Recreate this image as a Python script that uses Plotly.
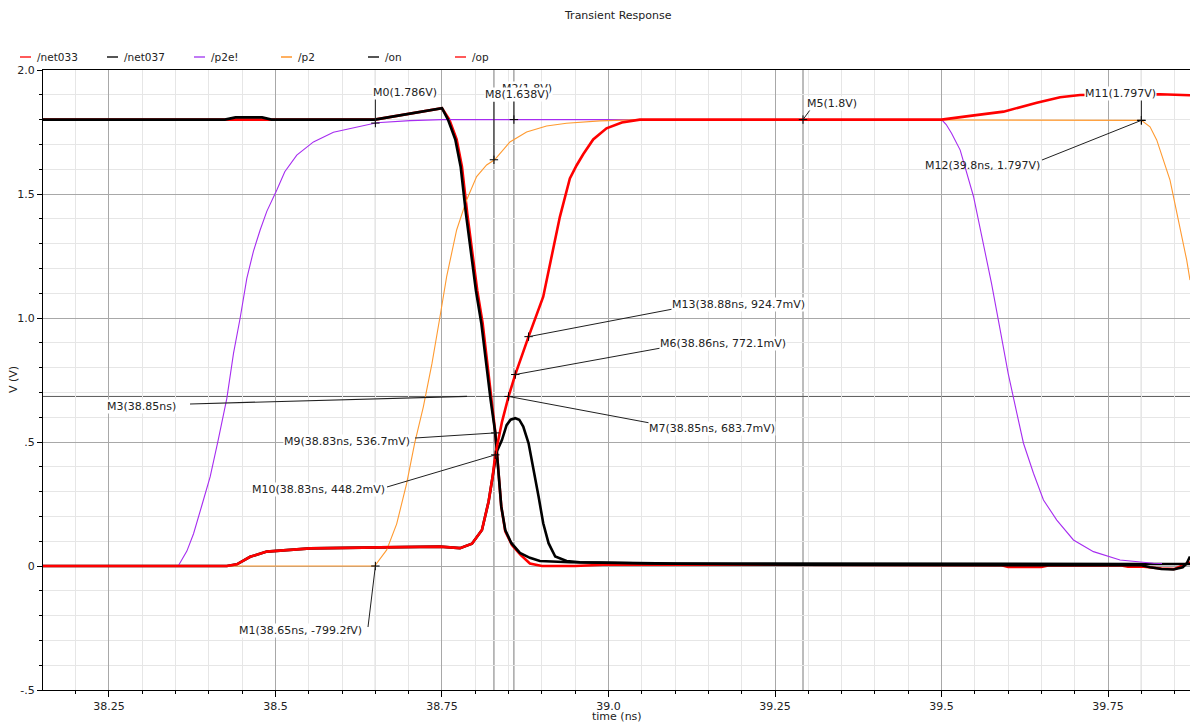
import plotly.graph_objects as go

# ---------------- data ----------------
x_ticks = [38.25, 38.5, 38.75, 39.0, 39.25, 39.5, 39.75]
x_tick_text = ["38.25", "38.5", "38.75", "39.0", "39.25", "39.5", "39.75"]
y_ticks = [-0.5, 0.0, 0.5, 1.0, 1.5, 2.0]
y_tick_text = ["-.5", "0", ".5", "1.0", "1.5", "2.0"]

t_net033 = [38.151, 38.649, 38.75, 38.761, 38.772, 38.780, 38.788, 38.795, 38.803, 38.811,
            38.819, 38.824, 38.830, 38.833, 38.836, 38.839, 38.845, 38.855, 38.868, 38.882,
            38.90, 38.95, 39.0, 39.3, 39.59, 39.60, 39.65, 39.66, 39.77, 39.78, 39.80,
            39.83, 39.85, 39.873]
v_net033 = [1.8, 1.8, 1.846, 1.8, 1.72, 1.61, 1.42, 1.27, 1.11, 0.98,
            0.80, 0.67, 0.54, 0.44, 0.335, 0.24, 0.14, 0.085, 0.045, 0.01,
            0.0, 0.0, 0.006, 0.005, 0.003, -0.004, -0.004, 0.002, 0.002, -0.003, -0.002,
            -0.01, -0.012, 0.015]

t_net037 = [38.151, 38.427, 38.442, 38.462, 38.487, 38.552, 38.657, 38.747, 38.777, 38.795,
            38.810, 38.820, 38.826, 38.832, 38.840, 38.847, 38.853, 38.860, 38.866, 38.872,
            38.880, 38.887, 38.895, 38.902, 38.910, 38.920, 38.937, 38.957, 39.1, 39.8, 39.873]
v_net037 = [0.0, 0.0, 0.007, 0.037, 0.058, 0.071, 0.075, 0.078, 0.072, 0.09,
            0.145, 0.26, 0.36, 0.46, 0.508, 0.568, 0.590, 0.596, 0.59, 0.562,
            0.495, 0.40, 0.28, 0.172, 0.092, 0.038, 0.02, 0.015, 0.01, 0.008, 0.008]

t_p2e = [38.151, 38.354, 38.367, 38.377, 38.389, 38.402, 38.414, 38.427, 38.437, 38.447,
         38.457, 38.467, 38.477, 38.487, 38.502, 38.514, 38.532, 38.557, 38.587, 38.622,
         38.652, 38.702, 38.75, 39.50, 39.507, 39.515, 39.528, 39.548, 39.563, 39.575,
         39.588, 39.600, 39.613, 39.623, 39.638, 39.653, 39.673, 39.698, 39.728, 39.768,
         39.818, 39.831]
v_p2e = [0.0, 0.0, 0.06, 0.13, 0.24, 0.36, 0.508, 0.676, 0.857, 1.0,
         1.16, 1.27, 1.355, 1.43, 1.516, 1.59, 1.657, 1.71, 1.749, 1.771,
         1.787, 1.796, 1.8, 1.8, 1.78, 1.745, 1.677, 1.49, 1.30, 1.14,
         0.952, 0.777, 0.616, 0.495, 0.374, 0.266, 0.185, 0.105, 0.058, 0.024,
         0.011, 0.01]

t_p2 = [38.151, 38.649, 38.667, 38.682, 38.697, 38.709, 38.722, 38.735, 38.747, 38.757,
        38.772, 38.787, 38.802, 38.817, 38.829, 38.852, 38.877, 38.907, 38.937, 38.987,
        39.047, 39.80, 39.813, 39.823, 39.843, 39.856, 39.868, 39.873]
v_p2 = [0.0, 0.0, 0.065, 0.17, 0.333, 0.495, 0.642, 0.817, 1.005, 1.167,
        1.355, 1.476, 1.57, 1.617, 1.638, 1.71, 1.75, 1.774, 1.785, 1.795,
        1.8, 1.797, 1.771, 1.718, 1.556, 1.395, 1.234, 1.153]

t_on = [38.151, 38.424, 38.440, 38.48, 38.494, 38.649, 38.75, 38.759, 38.770, 38.778,
        38.786, 38.793, 38.801, 38.809, 38.817, 38.823, 38.830, 38.833, 38.836, 38.839,
        38.845, 38.854, 38.867, 38.882, 38.897, 38.942, 39.062, 39.29, 39.8, 39.813,
        39.83, 39.848, 39.862, 39.868, 39.873]
v_on = [1.8, 1.8, 1.809, 1.809, 1.8, 1.8, 1.846, 1.8, 1.72, 1.61,
        1.42, 1.27, 1.11, 0.98, 0.80, 0.67, 0.537, 0.44, 0.335, 0.24,
        0.145, 0.093, 0.053, 0.033, 0.02, 0.015, 0.01, 0.005, 0.003, -0.005,
        -0.012, -0.014, -0.005, 0.01, 0.038]

t_op = [38.151, 38.427, 38.442, 38.462, 38.487, 38.552, 38.657, 38.747, 38.777, 38.795,
        38.810, 38.820, 38.826, 38.83, 38.84, 38.85, 38.86, 38.87, 38.88, 38.902,
        38.915, 38.927, 38.942, 38.952, 38.962, 38.977, 38.997, 39.02, 39.047, 39.50,
        39.543, 39.593, 39.643, 39.678, 39.708, 39.828, 39.873]
v_op = [0.0, 0.0, 0.007, 0.037, 0.058, 0.071, 0.075, 0.078, 0.072, 0.09,
        0.145, 0.26, 0.36, 0.448, 0.58, 0.684, 0.772, 0.85, 0.925, 1.086,
        1.247, 1.408, 1.563, 1.615, 1.66, 1.72, 1.765, 1.788, 1.80, 1.80,
        1.815, 1.832, 1.868, 1.89, 1.899, 1.902, 1.898]

# markers: name, time (ns), value (V), label text
marker_names = ["M0", "M1", "M2", "M8", "M5", "M11", "M12", "M13", "M6", "M7", "M9", "M10"]
marker_t = [38.65, 38.65, 38.858, 38.828, 39.292, 39.8, 39.8, 38.88, 38.86, 38.85, 38.83, 38.83]
marker_v = [1.786, 0.0, 1.8, 1.638, 1.8, 1.797, 1.797, 0.9247, 0.7721, 0.6837, 0.5367, 0.4482]
marker_text = ["M0(1.786V)", "M1(38.65ns, -799.2fV)", "M2(1.8V)", "M8(1.638V)", "M5(1.8V)",
               "M11(1.797V)", "M12(39.8ns, 1.797V)", "M13(38.88ns, 924.7mV)",
               "M6(38.86ns, 772.1mV)", "M7(38.85ns, 683.7mV)", "M9(38.83ns, 536.7mV)",
               "M10(38.83ns, 448.2mV)"]
vmarker_t = [38.65, 38.828, 38.858, 39.292, 39.8]
hmarker_v = 0.6837
hmarker_text = "M3(38.85ns)"

# ---------------- layout geometry (page pixels) ----------------
W, H = 1190, 727
L, R, T, B = 43, 1190, 70, 690
X0, X1 = 38.151, 39.873
Y0, Y1 = -0.5, 2.0


def px2t(px):
    return X0 + (px - L) / (R - L) * (X1 - X0)


def py2v(py):
    return Y1 - (py - T) / (B - T) * (Y1 - Y0)


def pxp(px):
    return (px - L) / (R - L)


def pyp(py):
    return (B - py) / (B - T)


# label placement: left x px, centre y px, leader end px (or None), white background
label_pos = {
    "M0": (374, 92, (None, 99), True),
    "M1": (240, 630, (368, 627), True),
    "M2": (503, 88, (None, 95), True),
    "M8": (486, 95, (None, 102), True),
    "M5": (808, 104, (810, 110), True),
    "M11": (1086, 93, (None, 100), True),
    "M12": (926, 165, (1042, 160), False),
    "M13": (673, 304, (673, 309), True),
    "M6": (661, 343, (661, 348), True),
    "M7": (650, 428, (650, 423), True),
    "M9": (285, 441, (415, 438), True),
    "M10": (253, 489, (387, 487), True),
}
label_order = ["M0", "M1", "M2", "M8", "M5", "M11", "M12", "M13", "M6", "M7", "M9", "M10"]

FONT = "DejaVu Sans"

fig = go.Figure()

series = [
    ("/net033", t_net033, v_net033, "#ff0000", 2.6),
    ("/net037", t_net037, v_net037, "#000000", 2.6),
    ("/p2e!", t_p2e, v_p2e, "#a62cf0", 1.1),
    ("/p2", t_p2, v_p2, "#ff9a30", 1.1),
    ("/on", t_on, v_on, "#000000", 2.6),
    ("/op", t_op, v_op, "#ff0000", 2.6),
]
for name, tx, vy, col, wd in series:
    fig.add_trace(go.Scatter(x=tx, y=vy, mode="lines", name=name,
                             line=dict(color=col, width=wd), showlegend=False,
                             hoverinfo="skip"))

# marker crosses
fig.add_trace(go.Scatter(x=marker_t, y=marker_v, mode="markers", showlegend=False,
                         marker=dict(symbol="cross-thin", size=6,
                                     line=dict(width=1, color="#000000")),
                         hoverinfo="skip"))

shapes = []
for tv in vmarker_t:
    shapes.append(dict(type="line", xref="x", yref="paper", x0=tv, x1=tv, y0=0, y1=1,
                       line=dict(color="#7a7a7a", width=1), layer="between"))
shapes.append(dict(type="line", xref="paper", yref="y", x0=0, x1=1, y0=hmarker_v, y1=hmarker_v,
                   line=dict(color="#5a5a5a", width=1), layer="between"))

annotations = []
for nm, tv, vv, txt in zip(marker_names, marker_t, marker_v, marker_text):
    lx, ly, lead, bg = label_pos[nm]
    ex, ey = lead
    x_end = tv if ex is None else px2t(ex)
    shapes.append(dict(type="line", xref="x", yref="y", x0=tv, x1=x_end, y0=vv, y1=py2v(ey),
                       line=dict(color="#202020", width=1), layer="above"))
for nm in label_order:
    idx = marker_names.index(nm)
    lx, ly, lead, bg = label_pos[nm]
    annotations.append(dict(text=marker_text[idx], xref="paper", yref="paper",
                            x=pxp(lx - 2), y=pyp(ly), xanchor="left", yanchor="middle",
                            showarrow=False, font=dict(family=FONT, size=11, color="#222222"),
                            bgcolor="#ffffff" if bg else "rgba(0,0,0,0)", borderpad=0))

annotations.append(dict(text=hmarker_text, xref="paper", yref="paper", x=pxp(106), y=pyp(407),
                        xanchor="left", yanchor="middle", showarrow=False,
                        font=dict(family=FONT, size=11, color="#222222"),
                        bgcolor="#ffffff", borderpad=0))
shapes.append(dict(type="line", xref="x", yref="y", x0=px2t(190), x1=px2t(467),
                   y0=py2v(404), y1=hmarker_v, line=dict(color="#202020", width=1.2),
                   layer="above"))

# legend (drawn manually)
legend_items = [("/net033", "#ff5a5a", 20), ("/net037", "#555555", 107), ("/p2e!", "#c07af5", 194),
                ("/p2", "#ffb060", 281), ("/on", "#555555", 368), ("/op", "#ff5a5a", 455)]
for txt, col, x0 in legend_items:
    shapes.append(dict(type="line", xref="paper", yref="paper", x0=pxp(x0), x1=pxp(x0 + 11),
                       y0=pyp(57), y1=pyp(57), line=dict(color=col, width=2)))
    annotations.append(dict(text=txt, xref="paper", yref="paper", x=pxp(x0 + 15), y=pyp(57),
                            xanchor="left", yanchor="middle", showarrow=False,
                            font=dict(family=FONT, size=10.5, color="#222222")))

annotations.append(dict(text="Transient Response", xref="paper", yref="paper", x=pxp(618), y=pyp(15),
                        xanchor="center", yanchor="middle", showarrow=False,
                        font=dict(family=FONT, size=11, color="#222222")))
annotations.append(dict(text="time (ns)", xref="paper", yref="paper", x=pxp(617), y=pyp(716),
                        xanchor="center", yanchor="middle", showarrow=False,
                        font=dict(family=FONT, size=11, color="#222222")))
annotations.append(dict(text="V (V)", xref="paper", yref="paper", x=pxp(13), y=pyp(380),
                        xanchor="center", yanchor="middle", showarrow=False, textangle=-90,
                        font=dict(family=FONT, size=11, color="#222222")))

fig.update_layout(
    width=W, height=H, autosize=False,
    margin=dict(l=L, r=W - R, t=T, b=H - B, pad=0),
    paper_bgcolor="#ffffff", plot_bgcolor="#ffffff",
    font=dict(family=FONT, size=11, color="#222222"),
    shapes=shapes, annotations=annotations,
    xaxis=dict(range=[X0, X1], tickmode="array", tickvals=x_ticks, ticktext=x_tick_text,
               ticks="outside", ticklen=6, tickcolor="#000000", tickwidth=1,
               showline=True, linecolor="#000000", linewidth=1, mirror=True,
               showgrid=True, gridcolor="#a8a8a8", gridwidth=1, zeroline=False,
               tickfont=dict(family=FONT, size=11, color="#222222"),
               minor=dict(tickmode="linear", tick0=38.0, dtick=0.05, ticks="outside", ticklen=3,
                          tickcolor="#000000", showgrid=True, gridcolor="#e6e6e6", gridwidth=1)),
    yaxis=dict(range=[Y0, Y1], tickmode="array", tickvals=y_ticks, ticktext=y_tick_text,
               ticks="outside", ticklen=5, tickcolor="#000000", tickwidth=1,
               showline=True, linecolor="#000000", linewidth=1,
               showgrid=True, gridcolor="#a8a8a8", gridwidth=1, zeroline=False,
               tickfont=dict(family=FONT, size=11, color="#222222"),
               minor=dict(tickmode="linear", tick0=0.0, dtick=0.1, ticks="outside", ticklen=3,
                          tickcolor="#000000", showgrid=True, gridcolor="#e6e6e6", gridwidth=1)),
)

fig.write_html("out.html", config={"displayModeBar": False},
               post_script="document.body.style.margin='0';document.body.style.overflow='hidden';")
